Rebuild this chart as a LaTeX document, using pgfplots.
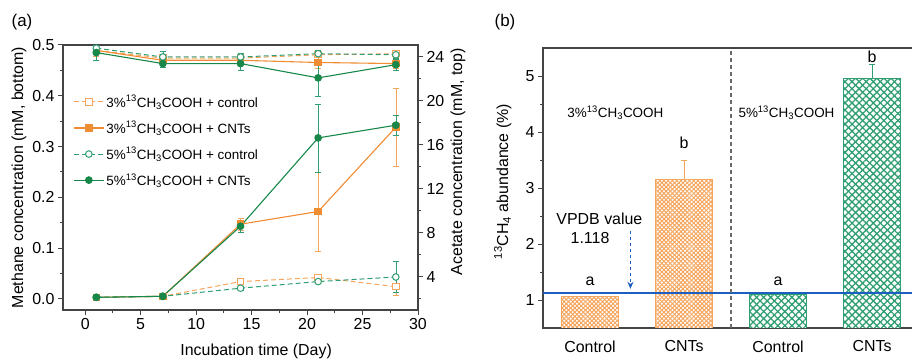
\documentclass[border=0pt]{standalone}
\usepackage{pgfplots}
\pgfplotsset{compat=1.18}
\usepackage{fontspec}
\setmainfont{Liberation Sans}
\usetikzlibrary{patterns.meta,arrows.meta}
\definecolor{orng}{HTML}{F08C32}
\definecolor{orngl}{HTML}{F5A55C}
\definecolor{grn}{HTML}{17884A}
\definecolor{grnl}{HTML}{2F9E72}
\definecolor{axc}{HTML}{444444}
\definecolor{vblue}{HTML}{1C5FC0}
\newcommand{\fs}{\fontsize{16}{19}\selectfont}
\newcommand{\fl}{\fontsize{13.5}{16}\selectfont}
\newcommand{\cmp}[1]{#1\%\textsuperscript{13}CH\textsubscript{3}COOH}
\pgfplotsset{
  common/.style={
    scale only axis,
    axis line style={axc, line width=1.3bp},
    every tick/.style={axc, line width=1bp},
    tick align=outside,
    major tick length=5bp,
    minor tick length=3bp,
    tick label style={font=\fs},
    label style={font=\fs},
    /pgf/number format/assume math mode=true,
  },
  ebar/.style={error bars/.cd, y dir=both, y explicit,
    error bar style={solid, line width=0.6bp, #1},
    error mark options={solid, rotate=90, mark size=3bp, line width=0.6bp, #1}},
}
\begin{document}
\begin{tikzpicture}
\path[use as bounding box] (0,0) rectangle (912bp,361bp);
\node[font=\fontsize{17}{20}\selectfont] at (22bp,339bp) {(a)};
\node[font=\fontsize{17}{20}\selectfont] at (505bp,339bp) {(b)};
% ---------------- panel a, methane ----------------
\begin{axis}[common, at={(63bp,51bp)}, anchor=south west, width=355bp, height=265bp,
  xmin=-2, xmax=30, ymin=-0.022, ymax=0.5,
  xtick={0,5,...,30}, minor xtick={2.5,7.5,...,27.5},
  ytick={0,0.1,0.2,0.3,0.4,0.5}, minor ytick={0.05,0.15,0.25,0.35,0.45},
  ytick pos=left, xtick pos=bottom,
  yticklabel style={/pgf/number format/.cd, fixed, fixed zerofill, precision=1},
  xlabel={Incubation time (Day)}, ylabel={Methane concentration (mM, bottom)},
  xlabel style={at={(axis description cs:0.544,-0.158)}, anchor=center},
  ylabel style={at={(axis description cs:-0.124,0.5)}, anchor=center},
  legend cell align=left,
  legend style={draw=none, fill=none, at={(axis description cs:0.02,0.826)}, anchor=north west, font=\fl, row sep=8.8bp},
  legend image code/.code={\draw[mark repeat=2,mark phase=2,#1] plot coordinates {(0bp,0bp) (15bp,0bp) (30bp,0bp)};},
]
\addplot[orngl, line width=1bp, dash pattern=on 5bp off 3bp, mark=square*, mark size=3.2bp, mark options={solid, fill=white, draw=orngl}, ebar=orngl]
 coordinates {(1,0.003)+-(0,0.002) (7,0.005)+-(0,0.002) (14,0.034)+-(0,0.006) (21,0.042)+-(0,0.005) (28,0.024)+-(0,0.018)};
\addlegendentry{\cmp{3} + control}
\addplot[orng, line width=1.1bp, mark=square*, mark size=3.2bp, mark options={solid, fill=orng}, ebar=orngl]
 coordinates {(1,0.003)+-(0,0.002) (7,0.005)+-(0,0.002) (14,0.147)+-(0,0.012) (21,0.172)+-(0,0.078) (28,0.338)+-(0,0.076)};
\addlegendentry{\cmp{3} + CNTs}
\addplot[grnl, line width=1bp, dash pattern=on 5bp off 3bp, mark=*, mark size=3.3bp, mark options={solid, fill=white, draw=grnl}, ebar=grnl]
 coordinates {(1,0.003)+-(0,0.002) (7,0.005)+-(0,0.002) (14,0.021)+-(0,0.004) (21,0.034)+-(0,0.004) (28,0.043)+-(0,0.03)};
\addlegendentry{\cmp{5} + control}
\addplot[grn, line width=1.1bp, mark=*, mark size=3.3bp, mark options={solid, fill=grn}, ebar=grnl]
 coordinates {(1,0.003)+-(0,0.002) (7,0.005)+-(0,0.002) (14,0.143)+-(0,0.012) (21,0.317)+-(0,0.067) (28,0.342)+-(0,0.02)};
\addlegendentry{\cmp{5} + CNTs}
\end{axis}
% ---------------- panel a, acetate ----------------
\begin{axis}[common, at={(63bp,51bp)}, anchor=south west, width=355bp, height=265bp,
  xmin=-2, xmax=30, ymin=1, ymax=25.09,
  axis x line=none, axis y line*=right,
  ytick={4,8,...,24}, minor ytick={2,6,...,22},
  ylabel={Acetate concentration (mM, top)},
  ylabel style={at={(axis description cs:1.113,0.56)}, anchor=center},
]
\addplot[orngl, line width=1bp, dash pattern=on 5bp off 3bp, mark=square*, mark size=3.2bp, mark options={solid, fill=white, draw=orngl}, ebar=orngl]
 coordinates {(1,24.6)+-(0,0.5) (7,23.9)+-(0,0.3) (14,23.9)+-(0,0.3) (21,24.2)+-(0,0.4) (28,24.3)+-(0,0.3)};
\addplot[orng, line width=1.1bp, mark=square*, mark size=3.2bp, mark options={solid, fill=orng}, ebar=orngl]
 coordinates {(1,24.6)+-(0,0.5) (7,23.7)+-(0,0.3) (14,23.7)+-(0,0.3) (21,23.5)+-(0,0.5) (28,23.4)+-(0,0.4)};
\addplot[grnl, line width=1bp, dash pattern=on 5bp off 3bp, mark=*, mark size=3.3bp, mark options={solid, fill=white, draw=grnl}, ebar=grnl]
 coordinates {(1,24.8)+-(0,0.3) (7,24.0)+-(0,0.5) (14,24.0)+-(0,0.3) (21,24.3)+-(0,0.3) (28,24.2)+-(0,0.3)};
\addplot[grn, line width=1.1bp, mark=*, mark size=3.3bp, mark options={solid, fill=grn}, ebar=grnl]
 coordinates {(1,24.4)+-(0,0.7) (7,23.4)+-(0,0.3) (14,23.4)+-(0,0.6) (21,22.1)+-(0,1.7) (28,23.3)+-(0,0.5)};
\end{axis}
% ---------------- panel b ----------------
\begin{axis}[common, at={(543bp,33bp)}, anchor=south west, width=372bp, height=280bp,
  xmin=-0.5, xmax=3.457, ymin=0.5, ymax=5.5,
  xtick={0,1,2,3}, xticklabels={Control,CNTs,Control,CNTs},
  x tick style={draw=none},
  xticklabel style={yshift=-4bp},
  ytick={1,2,3,4,5}, minor ytick={1.5,2.5,3.5,4.5},
  ytick pos=left, xtick pos=bottom,
  ylabel={\textsuperscript{13}CH\textsubscript{4} abundance (\%)},
  ylabel style={at={(axis description cs:-0.108,0.523)}, anchor=center},
]
\addplot[ybar, bar width=0.6, bar shift=0pt, draw=orngl, line width=0.8bp, fill=white,
  postaction={pattern={Lines[angle=45,distance=3bp,line width=1bp]}, pattern color=orngl},
  postaction={pattern={Lines[angle=-45,distance=3bp,line width=1bp]}, pattern color=orngl}, forget plot]
  coordinates {(0,1.07) (1,3.16)};
\addplot[ybar, bar width=0.6, bar shift=0pt, draw=grnl, line width=0.8bp, fill=white,
  postaction={pattern={Lines[angle=45,distance=5bp,line width=1.3bp]}, pattern color=grnl},
  postaction={pattern={Lines[angle=-45,distance=5bp,line width=1.3bp]}, pattern color=grnl}, forget plot]
  coordinates {(2,1.1) (3,4.96)};
\addplot[draw=none, mark=none, forget plot, error bars/.cd, y dir=plus, y explicit,
  error bar style={draw=orngl, line width=0.8bp}, error mark options={draw=orngl, rotate=90, mark size=3bp, line width=0.8bp}]
  coordinates {(1,3.16)+-(0,0.34)};
\addplot[draw=none, mark=none, forget plot, error bars/.cd, y dir=plus, y explicit,
  error bar style={draw=grnl, line width=0.8bp}, error mark options={draw=grnl, rotate=90, mark size=3bp, line width=0.8bp}]
  coordinates {(3,4.96)+-(0,0.25)};
\addplot[draw=vblue, line width=1.8bp, mark=none, forget plot] coordinates {(-0.5,1.118) (3.457,1.118)};
\draw[axc!80, line width=1.2bp, dash pattern=on 4bp off 3bp] (axis cs:1.5,0.5) -- (axis cs:1.5,5.5);
\draw[vblue, line width=1.4bp, dash pattern=on 3.5bp off 2.5bp, -{Stealth[length=7bp,width=6bp]}] (axis cs:0.43,2.24) -- (axis cs:0.43,1.2);
\node[font=\fl] at (axis cs:0.27,4.34) {\cmp{3}};
\node[font=\fl] at (axis cs:2.09,4.34) {\cmp{5}};
\node[font=\fs] at (axis cs:0,1.34) {a};
\node[font=\fs] at (axis cs:2,1.34) {a};
\node[font=\fs] at (axis cs:1,3.81) {b};
\node[font=\fs] at (axis cs:3,5.34) {b};
\node[font=\fs] at (axis cs:0.1,2.45) {VPDB value};
\node[font=\fs] at (axis cs:0,2.11) {1.118};
\end{axis}
\end{tikzpicture}
\end{document}
